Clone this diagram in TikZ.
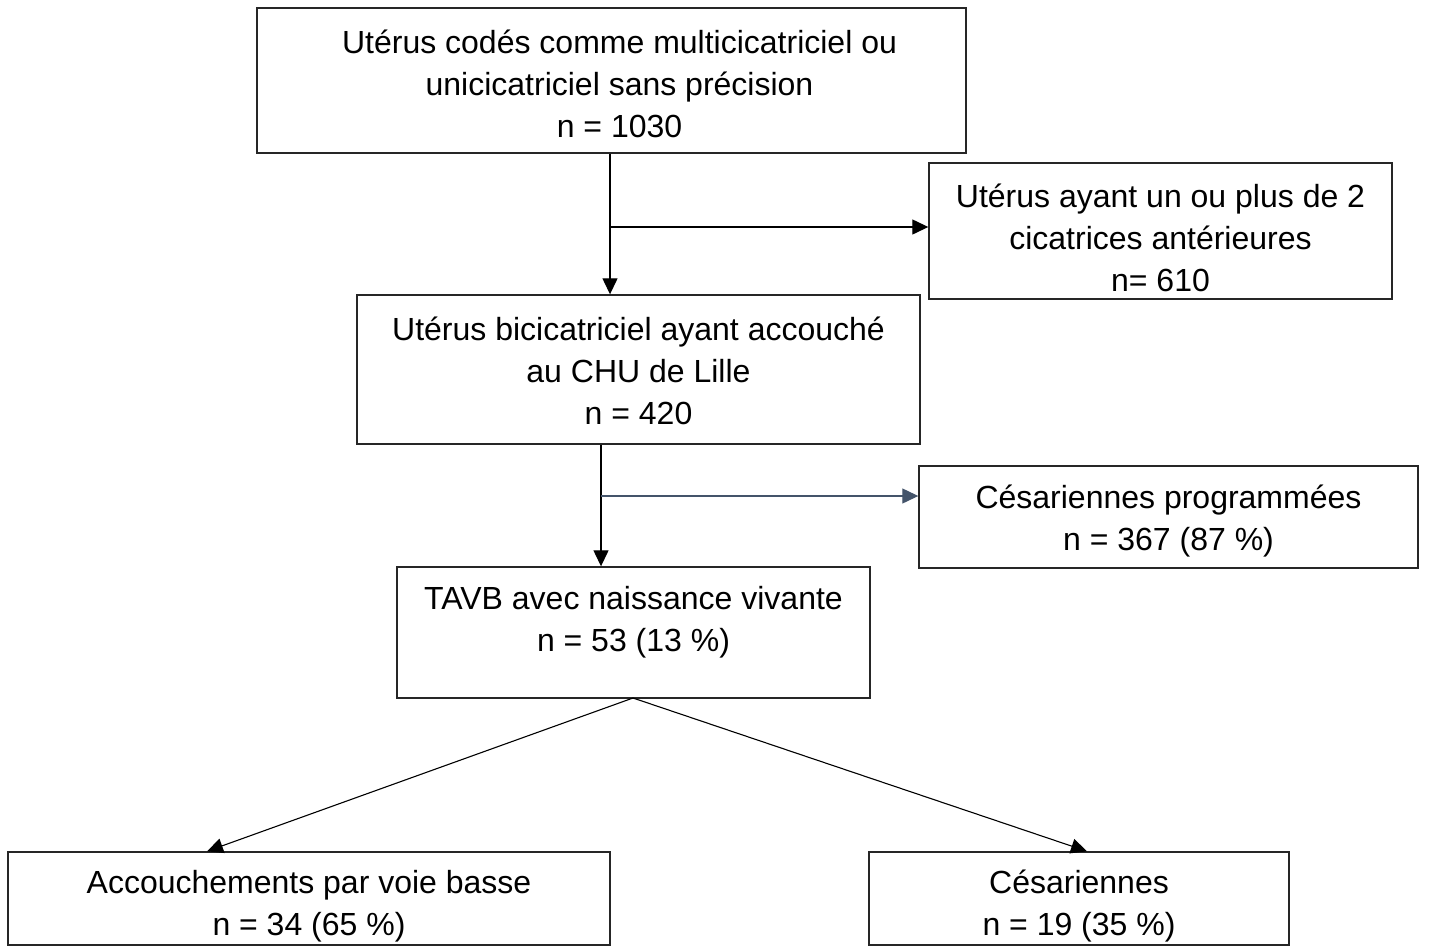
\documentclass[tikz,border=0pt]{standalone}
\usepackage{fontspec}
\setmainfont{Liberation Sans}
\usetikzlibrary{arrows.meta}
\definecolor{slate}{HTML}{44546A}
\begin{document}
\begin{tikzpicture}[x=1pt,y=-1pt,
  box/.style={draw=black!85,line width=1.4pt,rectangle,inner sep=0pt},
  txt/.style={inner sep=0pt,align=center,font=\fontsize{32}{42}\selectfont},
  conn/.style={line width=1.3pt,-{Triangle[length=16pt,width=15pt]}}]
\useasboundingbox (0,0) rectangle (1431,952);
% boxes
\node[box,minimum width=709pt,minimum height=145pt] (top) at (611.5,80.5) {};
\node[box,minimum width=463pt,minimum height=136pt] (r1) at (1160.5,231) {};
\node[box,minimum width=563pt,minimum height=149pt] (mid) at (638.5,369.5) {};
\node[box,minimum width=499pt,minimum height=102pt] (r2) at (1168.5,517) {};
\node[box,minimum width=473pt,minimum height=131pt] (tavb) at (633.5,632.5) {};
\node[box,minimum width=602pt,minimum height=93pt] (bl) at (309,898.5) {};
\node[box,minimum width=420pt,minimum height=93pt] (br) at (1079,898.5) {};
% texts
\node[txt] (ttop) at ([xshift=8pt,yshift=-3pt]top.center)
  {Utérus codés comme multicicatriciel ou\\unicicatriciel sans précision\\n = 1030};
\node[txt] (tr1) at ([yshift=-7pt]r1.center)
  {Utérus ayant un ou plus de 2\\cicatrices antérieures\\n= 610};
\node[txt] (tmid) at ([yshift=-1pt]mid.center)
  {Utérus bicicatriciel ayant accouché\\au CHU de Lille\\n = 420};
\node[txt] (tr2) at ([yshift=-4pt]r2.center)
  {Césariennes programmées\\n = 367 (87 \%)};
\node[txt] (ttavb) at ([yshift=10pt]tavb.center)
  {TAVB avec naissance vivante\\n = 53 (13 \%)};
\node[txt] (tbl) at ([yshift=-8pt]bl.center)
  {Accouchements par voie basse\\n = 34 (65 \%)};
\node[txt] (tbr) at ([yshift=-8pt]br.center)
  {Césariennes\\n = 19 (35 \%)};
% connectors
\coordinate (j1) at (610,227);
\coordinate (j2) at (601,496);
\draw[conn] (top.south -| j1) -- (mid.north -| j1);
\draw[conn] (j1) -- (r1.west |- j1);
\draw[conn] (mid.south -| j2) -- (tavb.north -| j2);
\draw[conn,draw=slate,line width=1.2pt,-{Triangle[length=16pt,width=15pt,fill=slate]}] (j2) -- (r2.west |- j2);
\coordinate (apex) at (633,698);
\draw[conn,line width=1.1pt] (apex) -- (bl.north -| 207,0);
\draw[conn,line width=1.1pt] (apex) -- (br.north -| 1087,0);
\end{tikzpicture}
\end{document}
